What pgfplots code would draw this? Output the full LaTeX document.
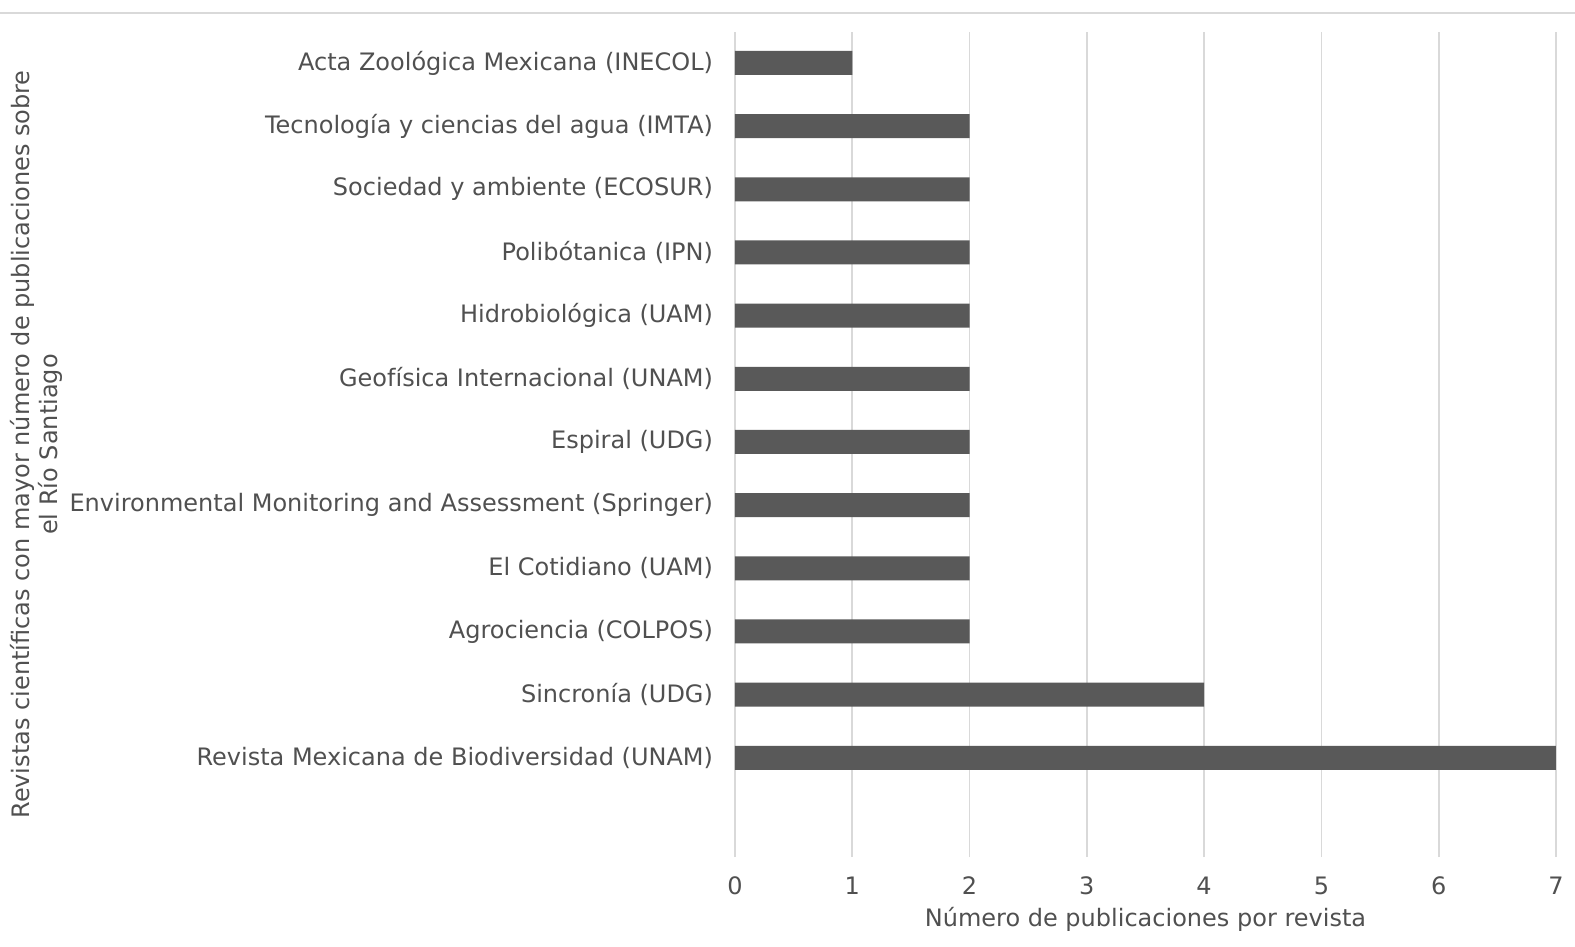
\documentclass[border=0pt]{standalone}
\usepackage{pgfplots}
\pgfplotsset{compat=1.18}
\usepackage{fontspec}
\setmainfont{DejaVu Sans}
\definecolor{bargray}{HTML}{595959}
\definecolor{txtgray}{HTML}{505050}
\definecolor{gridgray}{HTML}{D9D9D9}
\begin{document}
\begin{tikzpicture}
\path[use as bounding box] (-367.5bp,-45bp) rectangle (420bp,428.5bp);
\draw[gridgray, line width=0.8pt] (-367.5bp,422bp) -- (420bp,422bp);
\begin{axis}[
    at={(0,0)}, anchor=south west,
    scale only axis,
    width=410.5bp, height=412.5bp,
    xbar, bar width=12bp,
    xmin=0, xmax=7,
    ymin=-1.57, ymax=11.49,
    xtick={0,...,7},
    ytick={0,...,11},
    yticklabels={
        Revista Mexicana de Biodiversidad (UNAM),
        Sincronía (UDG),
        Agrociencia (COLPOS),
        El Cotidiano (UAM),
        Environmental Monitoring and Assessment (Springer),
        Espiral (UDG),
        Geofísica Internacional (UNAM),
        Hidrobiológica (UAM),
        Polibótanica (IPN),
        Sociedad y ambiente (ECOSUR),
        Tecnología y ciencias del agua (IMTA),
        Acta Zoológica Mexicana (INECOL)},
    xmajorgrids, major grid style={gridgray, line width=0.8pt},
    axis line style={draw=none},
    major tick length=0pt,
    tick label style={font=\fontsize{12bp}{14bp}\selectfont, text=txtgray},
    /pgf/number format/assume math mode=true,
    xticklabel style={yshift=-6.5bp},
    yticklabel style={xshift=-7.5bp},
    xlabel={Número de publicaciones por revista},
    xlabel style={font=\fontsize{12bp}{14bp}\selectfont, text=txtgray, at={(axis description cs:0.5,0)}, anchor=center, yshift=-31bp},
    ylabel={Revistas científicas con mayor número de publicaciones sobre\\el Río Santiago},
    ylabel style={font=\fontsize{12bp}{14bp}\selectfont, text=txtgray, align=center, at={([xshift=-349.5bp]axis description cs:0,0.5)}, anchor=center},
]
\addplot[draw=none, fill=bargray] coordinates {
    (7,0) (4,1) (2,2) (2,3) (2,4) (2,5) (2,6) (2,7) (2,8) (2,9) (2,10) (1,11)
};
\end{axis}
\end{tikzpicture}
\end{document}
